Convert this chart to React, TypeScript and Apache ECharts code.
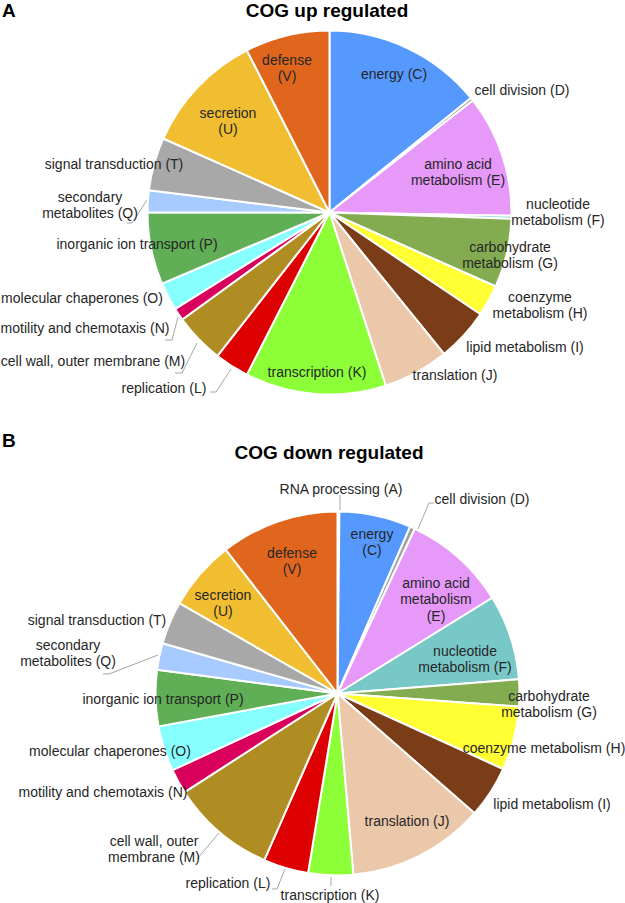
import React, { useEffect, useRef } from "react";
import * as echarts from "echarts";

// ---- data ----
const upCodes = ["C", "D", "E", "F", "G", "H", "I", "J", "K", "L", "M", "N", "O", "P", "Q", "T", "U", "V"];
const upLabels = [
  "energy (C)", "cell division (D)", "amino acid\nmetabolism (E)", "nucleotide\nmetabolism (F)",
  "carbohydrate\nmetabolism (G)", "coenzyme\nmetabolism (H)", "lipid metabolism (I)", "translation (J)",
  "transcription (K)", "replication (L)", "cell wall, outer membrane (M)", "motility and chemotaxis (N)",
  "molecular chaperones (O)", "inorganic ion transport (P)", "secondary\nmetabolites (Q)",
  "signal transduction (T)", "secretion\n(U)", "defense\n(V)",
];
const upValues = [51, 1, 39, 1, 22, 10, 17, 21, 45, 11, 16, 4, 9, 23, 7, 17, 39, 27];

const downCodes = ["A", "C", "D", "E", "F", "G", "H", "I", "J", "K", "L", "M", "N", "O", "P", "Q", "T", "U", "V"];
const downLabels = [
  "RNA processing (A)", "energy\n(C)", "cell division (D)", "amino acid\nmetabolism\n(E)",
  "nucleotide\nmetabolism (F)", "carbohydrate\nmetabolism (G)", "coenzyme metabolism (H)",
  "lipid metabolism (I)", "translation (J)", "transcription (K)", "replication (L)",
  "cell wall, outer\nmembrane (M)", "motility and chemotaxis (N)", "molecular chaperones (O)",
  "inorganic ion transport (P)", "secondary\nmetabolites (Q)", "signal transduction (T)",
  "secretion\n(U)", "defense\n(V)",
];
const downValues = [0.6, 22.9, 1.6, 33.1, 27.2, 8.6, 20.4, 16.6, 43.8, 14.3, 14.4, 33.4, 7.9, 14.5, 17.9, 8.5, 13.7, 22.4, 37.8];

const titles = ["COG up regulated", "COG down regulated"];
const panelLetters = ["A", "B"];

// ---- styles / layout ----
const colorMap: Record<string, string> = {
  A: "#3F6FD0", C: "#5599FF", D: "#A0A0A0", E: "#E699F9", F: "#78C8C8", G: "#83AB50",
  H: "#FFFF33", I: "#7A3D18", J: "#EBC8AA", K: "#8CFF38", L: "#DD0000", M: "#B08D22",
  N: "#D8005C", O: "#88FFFF", P: "#60AE55", Q: "#A8CBFF", T: "#A8A8A8", U: "#F0BE30", V: "#E0661E",
};

const FONT = "'Liberation Sans', Arial, Helvetica, sans-serif";

// label centre positions (px) for each slice, same order as data
const upLabelPos: [number, number][] = [
  [394, 74], [522, 90], [458, 172], [558, 212], [510, 255], [540, 305], [525, 347], [455, 375],
  [317, 372], [164, 388], [93, 361], [85, 328], [82, 298], [137, 244], [90, 205], [114, 164], [228, 121], [287, 68],
];
const downLabelPos: [number, number][] = [
  [341, 489], [372, 542], [482, 499], [436, 599], [465, 659], [549, 704], [544, 748], [552, 804],
  [407, 821], [330, 895], [228, 883], [154, 849], [103, 792], [110, 751], [163, 699], [68, 653],
  [97, 620], [223, 603], [292, 561],
];
const upLeaders: Record<string, number[][]> = {
  L: [[210, 392], [216, 392], [231, 369]],
  M: [[175, 373], [182, 373], [197, 343]],
  N: [[165, 340], [172, 340], [178, 317]],
  Q: [[127, 223], [132, 223], [147, 200]],
};
const downLeaders: Record<string, number[][]> = {
  A: [[340, 495], [340, 511]],
  D: [[434, 503], [429, 503], [418, 529]],
  K: [[331, 886], [331, 877]],
  L: [[272, 889], [277, 889], [285, 869]],
  M: [[197, 859], [219, 833]],
  Q: [[103, 674], [109, 674], [158, 655]],
};

function buildData(codes: string[], labels: string[], values: number[], leaders: Record<string, number[][]>) {
  return codes.map((c, i) => ({
    name: labels[i],
    value: values[i],
    itemStyle: { color: colorMap[c] },
    labelLine: { show: !!leaders[c] },
  }));
}

export default function App() {
  const ref = useRef<HTMLDivElement>(null);
  useEffect(() => {
    if (!ref.current) return;
    const chart = echarts.init(ref.current, undefined, { renderer: "svg" });
    const layouts = [upLabelPos, downLabelPos];
    const leaderSets = [upLeaders, downLeaders];
    const codeSets = [upCodes, downCodes];
    const labelStyle = {
      show: true,
      position: "outside" as const,
      formatter: "{b}",
      color: "#262626",
      fontSize: 14,
      lineHeight: 16.5,
      fontFamily: FONT,
      align: "center" as const,
    };
    const makeSeries = (center: [number, number], data: any[]) => ({
      type: "pie",
      center,
      radius: 182,
      startAngle: 90,
      clockwise: true,
      avoidLabelOverlap: false,
      data,
      itemStyle: { borderColor: "#ffffff", borderWidth: 2 },
      label: labelStyle,
      labelLine: { show: false, smooth: false, lineStyle: { color: "#A6A6A6", width: 1 } },
      emphasis: { disabled: true },
      labelLayout: (params: any) => {
        const s = params.seriesIndex;
        const i = params.dataIndex;
        const p = layouts[s][i];
        const lead = leaderSets[s][codeSets[s][i]];
        const out: any = { x: p[0], y: p[1], align: "center", verticalAlign: "middle" };
        if (lead) out.labelLinePoints = lead;
        return out;
      },
    });
    chart.setOption({
      animation: false,
      backgroundColor: "#ffffff",
      graphic: [
        { type: "text", x: 2, y: 10.5, style: { text: panelLetters[0], font: `bold 19px ${FONT}`, fill: "#000", align: "left", verticalAlign: "middle" } },
        { type: "text", x: 2, y: 440, style: { text: panelLetters[1], font: `bold 19px ${FONT}`, fill: "#000", align: "left", verticalAlign: "middle" } },
        { type: "text", x: 327, y: 10.5, style: { text: titles[0], font: `bold 19px ${FONT}`, fill: "#000", align: "center", verticalAlign: "middle" } },
        { type: "text", x: 329, y: 452.5, style: { text: titles[1], font: `bold 19px ${FONT}`, fill: "#000", align: "center", verticalAlign: "middle" } },
      ],
      series: [
        makeSeries([329.5, 212.5], buildData(upCodes, upLabels, upValues, upLeaders)),
        makeSeries([337.5, 693.5], buildData(downCodes, downLabels, downValues, downLeaders)),
      ],
    });
    return () => chart.dispose();
  }, []);
  return (
    <div
      ref={ref}
      style={{ position: "absolute", left: 0, top: 0, width: 625, height: 903, background: "#fff" }}
    />
  );
}
